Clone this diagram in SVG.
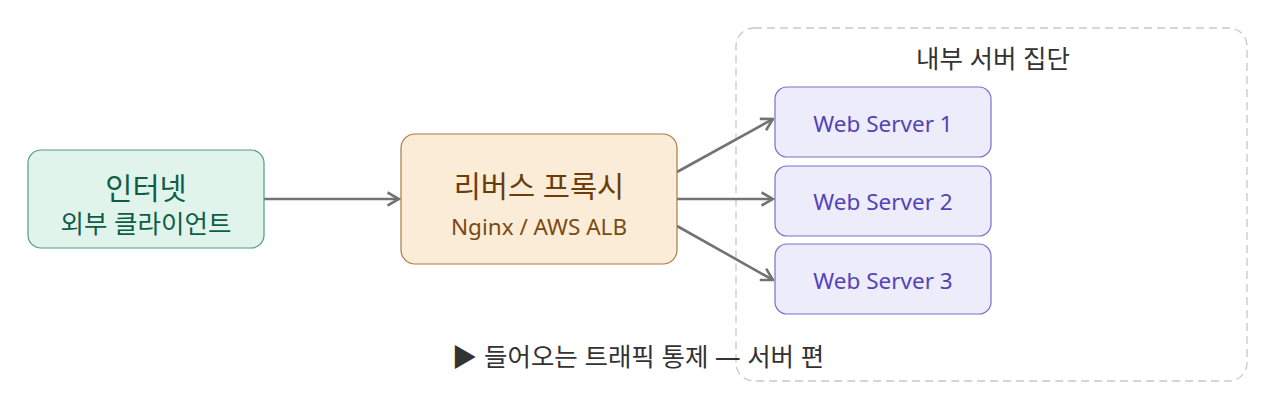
<svg xmlns="http://www.w3.org/2000/svg" width="1264" height="413" viewBox="0 0 1264 413">
<style>
text{font-family:"Noto Sans","Noto Sans CJK KR",sans-serif;text-anchor:middle;dominant-baseline:central}
.ws rect{fill:#ececfb;stroke:#7b6fcc;stroke-width:1.2}
.ws text{fill:#5443b8;font-size:22.5px}
.edge{stroke:#737373;stroke-width:2.6;fill:none;marker-end:url(#arr)}
</style>
<defs>
<marker id="arr" viewBox="0 0 14 16" refX="12.5" refY="8" markerWidth="14" markerHeight="16" markerUnits="userSpaceOnUse" orient="auto">
<path d="M1,1.5 L12.5,8 L1,14.5" fill="none" stroke="#737373" stroke-width="2.6"/>
</marker>
</defs>
<g id="cluster">
<rect x="736" y="28" width="511" height="353" rx="18" fill="none" stroke="#c8c8c8" stroke-width="1.3" stroke-dasharray="8 5"/>
<text x="993" y="58" font-size="25.5" fill="#333">내부 서버 집단</text>
</g>
<g id="edges">
<line class="edge" x1="264" y1="199" x2="399" y2="199"/>
<line class="edge" x1="677" y1="172" x2="773" y2="119"/>
<line class="edge" x1="677" y1="199" x2="773" y2="199"/>
<line class="edge" x1="677" y1="226" x2="773" y2="280"/>
</g>
<g id="internet">
<rect x="28" y="150" width="236" height="98" rx="13" fill="#e1f4ec" stroke="#4e9c83" stroke-width="1.2"/>
<text x="146" y="187" font-size="29.5" fill="#0e5e47">인터넷</text>
<text x="146" y="223" font-size="25.5" fill="#0e5e47">외부 클라이언트</text>
</g>
<g id="proxy">
<rect x="401" y="134" width="276" height="130" rx="14" fill="#fbecd8" stroke="#a97b3f" stroke-width="1.2"/>
<text x="539" y="185" font-size="29.5" fill="#6b3d08">리버스 프록시</text>
<text x="539" y="226" font-size="22.5" fill="#7b4a10">Nginx / AWS ALB</text>
</g>
<g id="ws1" class="ws">
<rect x="775" y="87" width="216" height="70" rx="12"/>
<text x="883" y="123">Web Server 1</text>
</g>
<g id="ws2" class="ws">
<rect x="775" y="166" width="216" height="70" rx="12"/>
<text x="883" y="201">Web Server 2</text>
</g>
<g id="ws3" class="ws">
<rect x="775" y="244" width="216" height="70" rx="12"/>
<text x="883" y="280">Web Server 3</text>
</g>
<g id="caption">
<text x="638" y="356" font-size="25.5" fill="#333">▶ 들어오는 트래픽 통제 — 서버 편</text>
</g>
</svg>
